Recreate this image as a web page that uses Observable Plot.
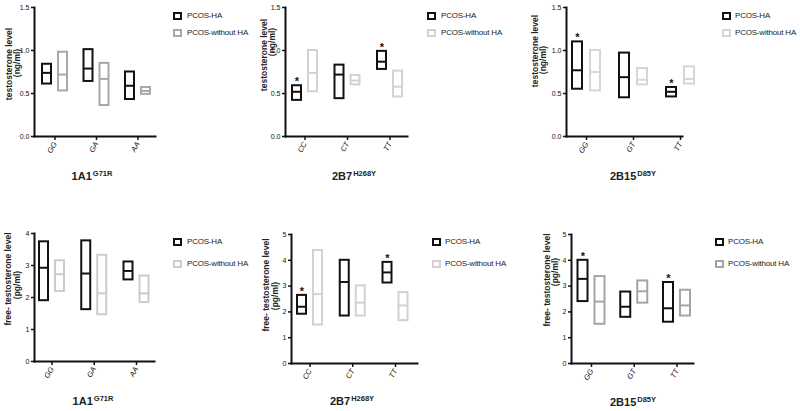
<!DOCTYPE html>
<html><head><meta charset="utf-8">
<script src="https://cdn.jsdelivr.net/npm/d3@7"></script>
<script src="https://cdn.jsdelivr.net/npm/@observablehq/plot@0.6"></script>
<style>
body{margin:0;background:#fff;font-family:"Liberation Sans",Arial,sans-serif;}
#page{position:relative;width:800px;height:411px;overflow:hidden;background:#fff}
.pnl{position:absolute}
.yt{position:absolute;transform:translate(-50%,-50%) rotate(-90deg);white-space:nowrap;font-weight:bold;font-size:8.5px;color:#222;line-height:1}
.xt{position:absolute;transform:translate(-50%,-50%);white-space:nowrap;font-weight:bold;font-size:11px;color:#222;line-height:1}
.xt sup{font-size:7.5px;vertical-align:0;position:relative;top:-4px;margin-left:1px}
.lgt{position:absolute;font-size:8px;color:#222;white-space:nowrap;transform:translateY(-50%);line-height:1;letter-spacing:-0.2px}
.lgb{position:absolute;width:5px;height:4px;border:2px solid #111}
g[aria-label="x-axis tick label"] text{font-style:italic}
g[aria-label$="-axis tick label"]{fill:#111}
g[aria-label$="-axis tick"]{stroke-width:1.5;stroke:#111}
</style>
</head><body><div id="page"></div>
<script>
// ---- data: [min, median, max] per genotype ----
const geno_1A1 = ["GG", "GA", "AA"];
const geno_2B7 = ["CC", "CT", "TT"];
const geno_2B15 = ["GG", "GT", "TT"];

// testosterone (ng/ml)
const T_1A1_HA   = [[0.61, 0.74, 0.84], [0.64, 0.79, 1.01], [0.43, 0.59, 0.75]];
const T_1A1_noHA = [[0.53, 0.72, 0.98], [0.36, 0.67, 0.85], [0.49, 0.53, 0.57]];
const T_2B7_HA   = [[0.42, 0.52, 0.59], [0.44, 0.72, 0.83], [0.78, 0.87, 0.99]];
const T_2B7_noHA = [[0.52, 0.74, 1.00], [0.60, 0.65, 0.71], [0.46, 0.58, 0.76]];
const T_2B15_HA   = [[0.55, 0.77, 1.10], [0.45, 0.69, 0.97], [0.46, 0.52, 0.57]];
const T_2B15_noHA = [[0.53, 0.75, 1.00], [0.60, 0.66, 0.79], [0.61, 0.67, 0.81]];

// free testosterone (pg/ml)
const FT_1A1_HA   = [[1.90, 2.93, 3.74], [1.62, 2.75, 3.77], [2.55, 2.83, 3.11]];
const FT_1A1_noHA = [[2.19, 2.73, 3.15], [1.46, 2.13, 3.32], [1.84, 2.13, 2.67]];
const FT_2B7_HA   = [[1.91, 2.20, 2.64], [1.84, 3.16, 4.00], [3.12, 3.53, 3.92]];
const FT_2B7_noHA = [[1.49, 2.69, 4.38], [1.84, 2.36, 3.01], [1.66, 2.25, 2.75]];
const FT_2B15_HA   = [[2.40, 3.28, 4.00], [1.79, 2.20, 2.77], [1.60, 2.14, 3.14]];
const FT_2B15_noHA = [[1.52, 2.40, 3.37], [2.34, 2.80, 3.20], [1.84, 2.25, 2.84]];

// significance markers (*) on PCOS-HA
const sig_T_2B7 = ["CC", "TT"];
const sig_T_2B15 = ["GG", "TT"];
const sig_FT_2B7 = ["CC", "TT"];
const sig_FT_2B15 = ["GG", "TT"];

const seriesNames = ["PCOS-HA", "PCOS-without HA"];
const yTicksT = [0, 0.5, 1.0, 1.5];
const yTicksFT4 = [0, 1, 2, 3, 4];
const yTicksFT5 = [0, 1, 2, 3, 4, 5];

// ---- layout ----
const page = document.getElementById("page");
function add(html, cls, x, y) {
  const el = document.createElement("div");
  el.className = cls; el.style.left = x + "px"; el.style.top = y + "px";
  el.innerHTML = html; page.appendChild(el); return el;
}

function panel(p) {
  const rows = [];
  p.geno.forEach((g, i) => {
    rows.push({g, grp: "HA", min: p.ha[i][0], med: p.ha[i][1], max: p.ha[i][2], sig: p.sig.includes(g)});
    rows.push({g, grp: "noHA", min: p.no[i][0], med: p.no[i][1], max: p.no[i][2], sig: false});
  });
  const ha = rows.filter(d => d.grp === "HA"), no = rows.filter(d => d.grp === "noHA");
  const s = (p.c2 - p.c0) / 2;
  const inHA = {insetLeft: s/2 - p.g - p.ow + 1, insetRight: s/2 + p.g + 1};
  const inNo = {insetLeft: s/2 + p.g + 1, insetRight: s/2 - p.g - p.ow + 1};
  const svg = Plot.plot({
    width: p.width, height: p.height,
    marginLeft: p.axisX - p.left, marginRight: p.left + p.width - p.axisEnd,
    marginTop: p.mt, marginBottom: p.mb,
    style: {overflow: "visible", background: "transparent", fontFamily: "Liberation Sans, Arial, sans-serif", fontSize: "7px", color: "#111"},
    x: {domain: p.geno, range: [p.c0 - s/2 - p.left, p.c2 + s/2 - p.left], padding: 0, round: false, label: null},
    y: {domain: [0, p.ymax], label: null},
    marks: [
      Plot.barY(no, {x: "g", y1: "min", y2: "max", fill: "none", stroke: p.noColor, strokeWidth: 2, ...inNo}),
      Plot.tickY(no, {x: "g", y: "med", stroke: p.noColor, strokeWidth: 2, ...inNo}),
      Plot.barY(ha, {x: "g", y1: "min", y2: "max", fill: "none", stroke: "#111", strokeWidth: 2, ...inHA}),
      Plot.tickY(ha, {x: "g", y: "med", stroke: "#111", strokeWidth: 2, ...inHA}),
      Plot.text(ha.filter(d => d.sig), {x: "g", y: "max", text: () => "*", dx: -(p.g + p.ow/2), dy: -4, fontSize: 11, fontWeight: "bold", fill: "#111"}),
      Plot.axisY({ticks: p.yticks, tickFormat: p.fmt, tickSize: 3, tickPadding: 2, fontSize: 7}),
      Plot.axisX({tickSize: 4, tickRotate: -60, tickPadding: 2, fontSize: 7.5}),
      Plot.frame({anchor: "left", strokeWidth: 2, stroke: "#111"}),
      Plot.frame({anchor: "bottom", strokeWidth: 2, stroke: "#111"})
    ]
  });
  const wrap = document.createElement("div");
  wrap.className = "pnl"; wrap.style.left = p.left + "px"; wrap.style.top = p.top + "px";
  wrap.appendChild(svg); page.appendChild(wrap);
  // titles
  add(p.yt1, "yt", p.yt1Pos[0], p.yt1Pos[1]);
  add(p.yt2, "yt", p.yt2Pos[0], p.yt2Pos[1]);
  add(p.xt + "<sup>" + p.xsup + "</sup>", "xt", p.xtPos[0], p.xtPos[1]);
  // legend
  const b1 = add("", "lgb", p.lg[0], p.lg[1] - 4); b1.style.borderColor = "#111";
  add(seriesNames[0], "lgt", p.lg[2], p.lg[1]);
  const b2 = add("", "lgb", p.lg[0], p.lg[3] - 4); b2.style.borderColor = p.noColor;
  add(seriesNames[1], "lgt", p.lg[2], p.lg[3]);
}

const fmtT = d3.format(".1f"), fmtFT = d3.format("d");

panel({geno: geno_1A1, ha: T_1A1_HA, no: T_1A1_noHA, sig: [], left: 0, top: 0, width: 170, height: 165,
  axisX: 34, axisEnd: 155, mt: 7, mb: 29, c0: 54.5, c2: 137.5, g: 2.5, ow: 11, ymax: 1.5, yticks: yTicksT, fmt: fmtT,
  noColor: "#a8a8a8", yt1: "testosterone level", yt2: "(ng/ml)", yt1Pos: [9, 64], yt2Pos: [17, 63],
  xt: "1A1", xsup: "G71R", xtPos: [92, 176], lg: [173, 16, 187, 33]});
panel({geno: geno_2B7, ha: T_2B7_HA, no: T_2B7_noHA, sig: sig_T_2B7, left: 255, top: 0, width: 170, height: 165,
  axisX: 285, axisEnd: 407, mt: 7, mb: 29, c0: 304.5, c2: 389.5, g: 2.5, ow: 11, ymax: 1.5, yticks: yTicksT, fmt: fmtT,
  noColor: "#d2d2d2", yt1: "testosterone level", yt2: "(ng/ml)", yt1Pos: [264, 55], yt2Pos: [272, 42],
  xt: "2B7", xsup: "H268Y", xtPos: [354, 176], lg: [427, 16, 441, 33]});
panel({geno: geno_2B15, ha: T_2B15_HA, no: T_2B15_noHA, sig: sig_T_2B15, left: 535, top: 0, width: 175, height: 165,
  axisX: 566, axisEnd: 682, mt: 7, mb: 29, c0: 586, c2: 680, g: 3, ow: 12, ymax: 1.5, yticks: yTicksT, fmt: fmtT,
  noColor: "#d6d6d6", yt1: "testosterone level", yt2: "(ng/ml)", yt1Pos: [535, 51], yt2Pos: [543, 60],
  xt: "2B15", xsup: "D85Y", xtPos: [633, 176], lg: [722, 16, 735, 33]});
panel({geno: geno_1A1, ha: FT_1A1_HA, no: FT_1A1_noHA, sig: [], left: 0, top: 205, width: 170, height: 190,
  axisX: 34, axisEnd: 154, mt: 28, mb: 34, c0: 51.5, c2: 136, g: 2.5, ow: 11, ymax: 4, yticks: yTicksFT4, fmt: fmtFT,
  noColor: "#cccccc", yt1: "free- testosterone level", yt2: "(pg/ml)", yt1Pos: [8, 279], yt2Pos: [17, 285],
  xt: "1A1", xsup: "G71R", xtPos: [93, 401], lg: [173, 242, 187, 264]});
panel({geno: geno_2B7, ha: FT_2B7_HA, no: FT_2B7_noHA, sig: sig_FT_2B7, left: 255, top: 205, width: 175, height: 190,
  axisX: 291, axisEnd: 417, mt: 29, mb: 32, c0: 309.5, c2: 395, g: 2.5, ow: 11, ymax: 5, yticks: yTicksFT5, fmt: fmtFT,
  noColor: "#d2d2d2", yt1: "free- testosterone level", yt2: "(pg/ml)", yt1Pos: [266, 285], yt2Pos: [275, 296],
  xt: "2B7", xsup: "H268Y", xtPos: [352, 401], lg: [432, 242, 445, 264]});
panel({geno: geno_2B15, ha: FT_2B15_HA, no: FT_2B15_noHA, sig: sig_FT_2B15, left: 535, top: 205, width: 175, height: 190,
  axisX: 571, axisEnd: 693, mt: 29, mb: 32, c0: 591, c2: 676.5, g: 2.5, ow: 12, ymax: 5, yticks: yTicksFT5, fmt: fmtFT,
  noColor: "#a5a5a5", yt1: "free- testosterone level", yt2: "(pg/ml)", yt1Pos: [547, 280], yt2Pos: [555, 272],
  xt: "2B15", xsup: "D85Y", xtPos: [633, 402], lg: [715, 242, 728, 264]});
</script>
</body></html>
